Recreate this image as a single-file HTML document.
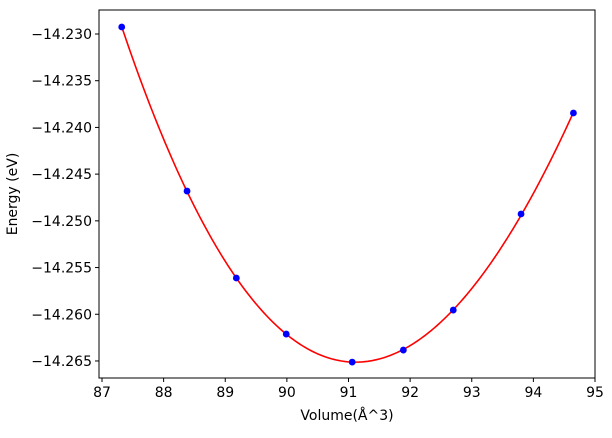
<!DOCTYPE html>
<html><head><meta charset="utf-8"><style>
body{margin:0;background:#fff}
svg text{font-family:"DejaVu Sans","Liberation Sans",sans-serif;font-size:14px;fill:#000}
</style></head><body>
<svg id="chart" width="612" height="433" xmlns="http://www.w3.org/2000/svg"></svg>
<script>
const volumes=[87.32,88.38,89.18,89.99,91.06,91.89,92.70,93.80,94.65];
const energies=[-14.22925,-14.24681,-14.25612,-14.26212,-14.26512,-14.26383,-14.25955,-14.24927,-14.23846];
const xTicks=[87,88,89,90,91,92,93,94,95];
const yTicks=[-14.230,-14.235,-14.240,-14.245,-14.250,-14.255,-14.260,-14.265];
const L=99,R=595,T=10,B=378;
const X=v=>102+(v-87)*61.625;
const Y=e=>34+(-14.230-e)/0.005*46.71;
const svg=document.getElementById('chart');
const NS='http://www.w3.org/2000/svg';
function mk(t,a,p){const e=document.createElementNS(NS,t);for(const k in a)e.setAttribute(k,a[k]);(p||svg).appendChild(e);return e;}
function fit(){const n=4,A=[],b=[];for(let i=0;i<n;i++){A.push(new Array(n).fill(0));b.push(0);}
const c=91;for(let k=0;k<volumes.length;k++){const x=volumes[k]-c;for(let i=0;i<n;i++){b[i]+=energies[k]*Math.pow(x,i);for(let j=0;j<n;j++)A[i][j]+=Math.pow(x,i+j);}}
for(let i=0;i<n;i++){for(let r=i+1;r<n;r++){const f=A[r][i]/A[i][i];for(let j=i;j<n;j++)A[r][j]-=f*A[i][j];b[r]-=f*b[i];}}
const s=new Array(n).fill(0);for(let i=n-1;i>=0;i--){let v=b[i];for(let j=i+1;j<n;j++)v-=A[i][j]*s[j];s[i]=v/A[i][i];}
return x=>{let v=0;const d=x-c;for(let i=0;i<n;i++)v+=s[i]*Math.pow(d,i);return v;};}
const f=fit();
const x0=Math.min(...volumes),x1=Math.max(...volumes);let d='';
for(let i=0;i<=200;i++){const v=x0+(x1-x0)*i/200;d+=(i?'L':'M')+X(v).toFixed(2)+','+Y(f(v)).toFixed(2);}
const fitLine=mk('path',{d:d,fill:'none',stroke:'#ff0000','stroke-width':1.6});


volumes.forEach((v,i)=>{const p=mk('circle',{cx:X(v),cy:Y(energies[i]),r:3.4,fill:'#0000ff'});

});
const frame=mk('rect',{x:L,y:T,width:R-L,height:B-T,fill:'none',stroke:'#000','stroke-width':1});


xTicks.forEach(t=>{const x=X(t);mk('line',{x1:x,x2:x,y1:B,y2:B+4,stroke:'#000'});
const tx=mk('text',{x:x,y:B+19,'text-anchor':'middle'});tx.textContent=t;

});
yTicks.forEach(t=>{const y=Y(t);mk('line',{x1:L-4,x2:L,y1:y,y2:y,stroke:'#000'});
const tx=mk('text',{x:L-7,y:y+5,'text-anchor':'end'});tx.textContent='\u2212'+Math.abs(t).toFixed(3);

});
const xl=mk('text',{x:347,y:420,'text-anchor':'middle'});xl.textContent='Volume(Å^3)';


const yl=mk('text',{x:17,y:194,'text-anchor':'middle',transform:'rotate(-90 17 194)'});yl.textContent='Energy (eV)';


</script>
</body></html>
